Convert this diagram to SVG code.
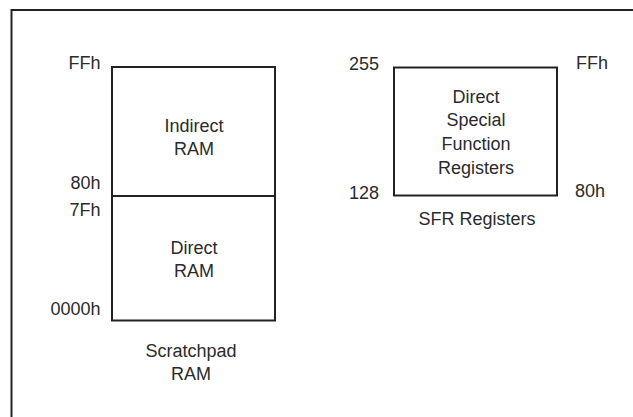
<svg xmlns="http://www.w3.org/2000/svg" width="633" height="417" viewBox="0 0 633 417">
<style>
.box{fill:none;stroke:#222;stroke-width:2}
text{font-family:"Liberation Sans",Arial,sans-serif;font-size:18px;fill:#2b2b2b}
.m{text-anchor:middle}
.e{text-anchor:end}
</style>
<rect width="633" height="417" fill="#fff"/>
<rect class="box" x="11.5" y="10" width="640" height="420"/>
<g id="scratchpad">
<rect class="box" x="112" y="67" width="163" height="253.5"/>
<line class="box" x1="112" y1="196" x2="275" y2="196"/>
<text class="m" x="194" y="131.5">Indirect</text>
<text class="m" x="194" y="155">RAM</text>
<text class="m" x="194" y="253.5">Direct</text>
<text class="m" x="194" y="277">RAM</text>
<text class="e" x="100.5" y="69">FFh</text>
<text class="e" x="100.5" y="188.5">80h</text>
<text class="e" x="100.5" y="216">7Fh</text>
<text class="e" x="100.5" y="315">0000h</text>
<text class="m" x="191" y="356.5">Scratchpad</text>
<text class="m" x="191" y="379.5">RAM</text>
</g>
<g id="sfr">
<rect class="box" x="394" y="67.5" width="163" height="128"/>
<text class="m" x="476" y="102.5">Direct</text>
<text class="m" x="476" y="126">Special</text>
<text class="m" x="476" y="150">Function</text>
<text class="m" x="476" y="173.5">Registers</text>
<text x="349" y="70">255</text>
<text x="349" y="199">128</text>
<text x="576" y="69">FFh</text>
<text x="575" y="196.5">80h</text>
<text class="m" x="477" y="225">SFR Registers</text>
</g>
<g id="connectors"></g>
</svg>
